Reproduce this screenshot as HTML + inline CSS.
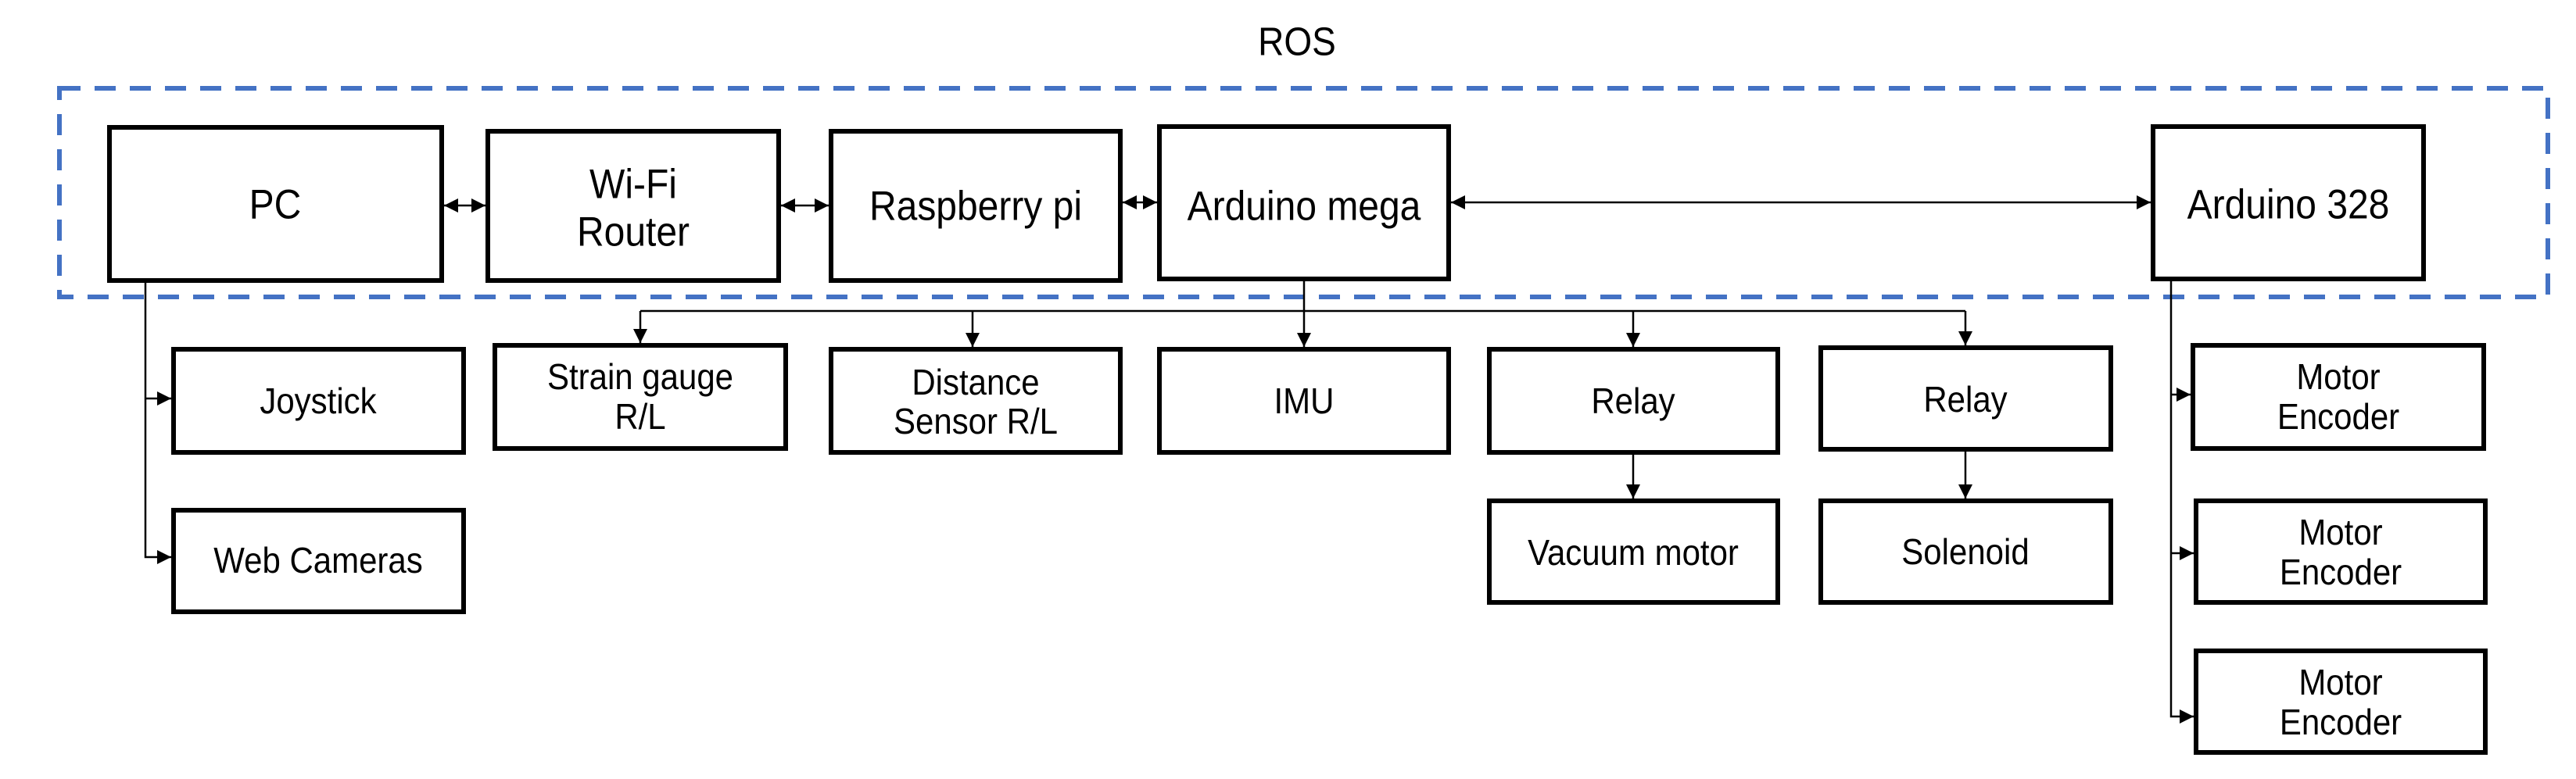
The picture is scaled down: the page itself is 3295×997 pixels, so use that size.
<!DOCTYPE html>
<html><head><meta charset="utf-8"><style>
html,body{margin:0;padding:0;background:#fff;}
svg{display:block;}
text{font-family:"Liberation Sans",Arial,sans-serif;fill:#000;}
</style></head><body>
<svg width="3295" height="997" viewBox="0 0 3295 997" xmlns="http://www.w3.org/2000/svg">
<defs>
<marker id="a" viewBox="0 0 10 10" refX="10" refY="5" markerWidth="22" markerHeight="18" markerUnits="userSpaceOnUse" orient="auto-start-reverse"><path d="M0,0 L10,5 L0,10 z" fill="#000"/></marker>
</defs>
<rect x="76" y="113" width="3183" height="267" fill="none" stroke="#4472C4" stroke-width="6" stroke-dasharray="27 18"/>
<text x="1659" y="54" font-size="46" text-anchor="middle" dominant-baseline="central" transform="translate(1659,54) scale(1,1.1) translate(-1659,-54)">ROS</text>

<g fill="none" stroke="#000" stroke-width="6">
<rect x="140" y="163" width="425" height="196"/>
<rect x="624" y="168" width="372" height="191"/>
<rect x="1063" y="168" width="370" height="191"/>
<rect x="1483" y="162" width="370" height="195"/>
<rect x="2754" y="162" width="346" height="195"/>
<rect x="222" y="447" width="371" height="132"/>
<rect x="222" y="653" width="371" height="130"/>
<rect x="633" y="442" width="372" height="132"/>
<rect x="1063" y="447" width="370" height="132"/>
<rect x="1483" y="447" width="370" height="132"/>
<rect x="1905" y="447" width="369" height="132"/>
<rect x="1905" y="641" width="369" height="130"/>
<rect x="2329" y="445" width="371" height="130"/>
<rect x="2329" y="641" width="371" height="130"/>
<rect x="2805" y="442" width="372" height="132"/>
<rect x="2809" y="641" width="370" height="130"/>
<rect x="2809" y="833" width="370" height="130"/>
</g>

<g fill="none" stroke="#000" stroke-width="2.5">
<line x1="568" y1="263" x2="621" y2="263" marker-start="url(#a)" marker-end="url(#a)"/>
<line x1="999" y1="263" x2="1060" y2="263" marker-start="url(#a)" marker-end="url(#a)"/>
<line x1="1436" y1="259" x2="1480" y2="259" marker-start="url(#a)" marker-end="url(#a)"/>
<line x1="1856" y1="259" x2="2751" y2="259" marker-start="url(#a)" marker-end="url(#a)"/>
<polyline points="186,362 186,713 219,713" marker-end="url(#a)"/>
<line x1="186" y1="510" x2="219" y2="510" marker-end="url(#a)"/>
<line x1="819" y1="398" x2="2514" y2="398"/>
<line x1="819" y1="398" x2="819" y2="439" marker-end="url(#a)"/>
<line x1="1244" y1="398" x2="1244" y2="444" marker-end="url(#a)"/>
<line x1="1668" y1="360" x2="1668" y2="444" marker-end="url(#a)"/>
<line x1="2089" y1="398" x2="2089" y2="444" marker-end="url(#a)"/>
<line x1="2514" y1="398" x2="2514" y2="442" marker-end="url(#a)"/>
<line x1="2089" y1="582" x2="2089" y2="638" marker-end="url(#a)"/>
<line x1="2514" y1="578" x2="2514" y2="638" marker-end="url(#a)"/>
<polyline points="2777,360 2777,917 2806,917" marker-end="url(#a)"/>
<line x1="2777" y1="505" x2="2802" y2="505" marker-end="url(#a)"/>
<line x1="2777" y1="708" x2="2806" y2="708" marker-end="url(#a)"/>
</g>

<g text-anchor="middle" dominant-baseline="central">
<g font-size="48">
<text x="352" y="261" transform="translate(352,261) scale(1,1.1) translate(-352,-261)">PC</text>
<text x="810" y="235" transform="translate(810,235) scale(1,1.1) translate(-810,-235)">Wi-Fi</text>
<text x="810" y="296" transform="translate(810,296) scale(1,1.1) translate(-810,-296)">Router</text>
<text x="1248" y="263" transform="translate(1248,263) scale(1,1.1) translate(-1248,-263)">Raspberry pi</text>
<text x="1668" y="263" transform="translate(1668,263) scale(1,1.1) translate(-1668,-263)">Arduino mega</text>
<text x="2927" y="261" transform="translate(2927,261) scale(1,1.1) translate(-2927,-261)">Arduino 328</text>
</g>
<g font-size="42">
<text x="407" y="514" transform="translate(407,514) scale(1,1.1) translate(-407,-514)">Joystick</text>
<text x="407" y="718" transform="translate(407,718) scale(1,1.1) translate(-407,-718)">Web Cameras</text>
<text x="819" y="483" transform="translate(819,483) scale(1,1.1) translate(-819,-483)">Strain gauge</text>
<text x="819" y="534" transform="translate(819,534) scale(1,1.1) translate(-819,-534)">R/L</text>
<text x="1248" y="490" transform="translate(1248,490) scale(1,1.1) translate(-1248,-490)">Distance</text>
<text x="1248" y="540" transform="translate(1248,540) scale(1,1.1) translate(-1248,-540)">Sensor R/L</text>
<text x="1668" y="514" transform="translate(1668,514) scale(1,1.1) translate(-1668,-514)">IMU</text>
<text x="2089" y="514" transform="translate(2089,514) scale(1,1.1) translate(-2089,-514)">Relay</text>
<text x="2089" y="708" transform="translate(2089,708) scale(1,1.1) translate(-2089,-708)">Vacuum motor</text>
<text x="2514" y="512" transform="translate(2514,512) scale(1,1.1) translate(-2514,-512)">Relay</text>
<text x="2514" y="707" transform="translate(2514,707) scale(1,1.1) translate(-2514,-707)">Solenoid</text>
<text x="2991" y="483" transform="translate(2991,483) scale(1,1.1) translate(-2991,-483)">Motor</text>
<text x="2991" y="534" transform="translate(2991,534) scale(1,1.1) translate(-2991,-534)">Encoder</text>
<text x="2994" y="682" transform="translate(2994,682) scale(1,1.1) translate(-2994,-682)">Motor</text>
<text x="2994" y="733" transform="translate(2994,733) scale(1,1.1) translate(-2994,-733)">Encoder</text>
<text x="2994" y="874" transform="translate(2994,874) scale(1,1.1) translate(-2994,-874)">Motor</text>
<text x="2994" y="925" transform="translate(2994,925) scale(1,1.1) translate(-2994,-925)">Encoder</text>
</g>
</g>
</svg>
</body></html>
